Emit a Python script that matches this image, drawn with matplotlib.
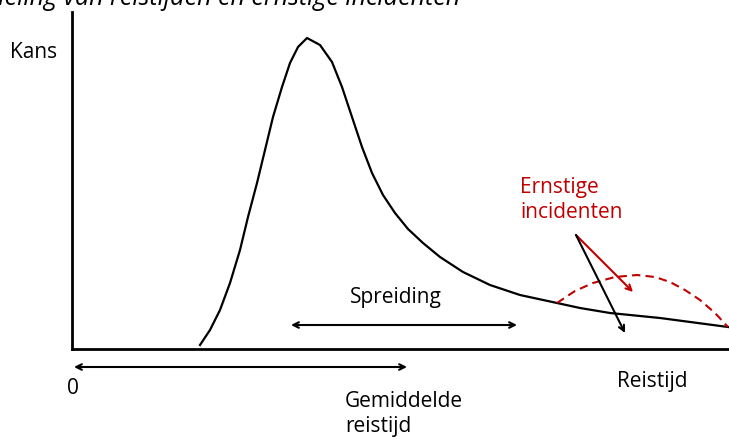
import matplotlib.pyplot as plt

curve_x = [200, 210, 220, 230, 240, 248, 257, 265, 273, 282, 290, 298, 307,
           320, 332, 342, 352, 362, 372, 383, 395, 408, 423, 440, 463, 490,
           520, 557, 580, 610, 660, 728]
curve_y = [345, 330, 310, 283, 250, 217, 183, 150, 117, 87, 63, 47, 38,
           45, 62, 87, 117, 147, 173, 195, 213, 229, 243, 257, 272, 285,
           295, 303, 308, 313, 318, 327]

# ernstige incidenten (rood gestippeld)
inc_x = [557, 575, 593, 615, 637, 655, 670, 685, 700, 715, 728]
inc_y = [303, 291, 283, 277, 275, 277, 282, 290, 300, 313, 327]

red = '#C00000'
font = 'Open Sans'

fig = plt.figure(figsize=(7.29, 4.41), dpi=100)
ax = fig.add_axes([0, 0, 1, 1])
ax.set_xlim(0, 729)
ax.set_ylim(441, 0)
ax.axis('off')

# assen
ax.plot([72, 72], [12, 349], color='black', lw=2)
ax.plot([72, 729], [349, 349], color='black', lw=2)

ax.plot(curve_x, curve_y, color='black', lw=1.6, solid_joinstyle='round')
ax.plot(inc_x, inc_y, color=red, lw=1.5, ls=(0, (4, 2.5)))

# pijlen
ax.annotate('', xy=(517, 325), xytext=(291, 325),
            arrowprops=dict(arrowstyle='<->', color='black', lw=1.5, shrinkA=0, shrinkB=0))
ax.annotate('', xy=(407, 367), xytext=(74, 367),
            arrowprops=dict(arrowstyle='<->', color='black', lw=1.5, shrinkA=0, shrinkB=0))
ax.annotate('', xy=(633, 292), xytext=(576, 235),
            arrowprops=dict(arrowstyle='->', color=red, lw=1.5, shrinkA=0, shrinkB=0))
ax.annotate('', xy=(625, 333), xytext=(576, 235),
            arrowprops=dict(arrowstyle='->', color='black', lw=1.5, shrinkA=0, shrinkB=0))

# teksten
fs = 15
ax.text(460, 5, 'Verdeling van reistijden en ernstige incidenten', fontsize=18,
        style='italic', family=font, ha='right', va='baseline')
ax.text(10, 52, 'Kans', fontsize=fs, family=font, ha='left', va='center')
ax.text(396, 298, 'Spreiding', fontsize=fs, family=font, ha='center', va='center')
ax.text(520, 200, 'Ernstige\nincidenten', fontsize=fs, family=font, color=red,
        ha='left', va='center', linespacing=1.3)
ax.text(73, 388, '0', fontsize=fs, family=font, ha='center', va='center')
ax.text(345, 414, 'Gemiddelde\nreistijd', fontsize=fs, family=font, ha='left',
        va='center', linespacing=1.3)
ax.text(652, 382, 'Reistijd', fontsize=fs, family=font, ha='center', va='center')

plt.savefig('out.png', dpi=100)
